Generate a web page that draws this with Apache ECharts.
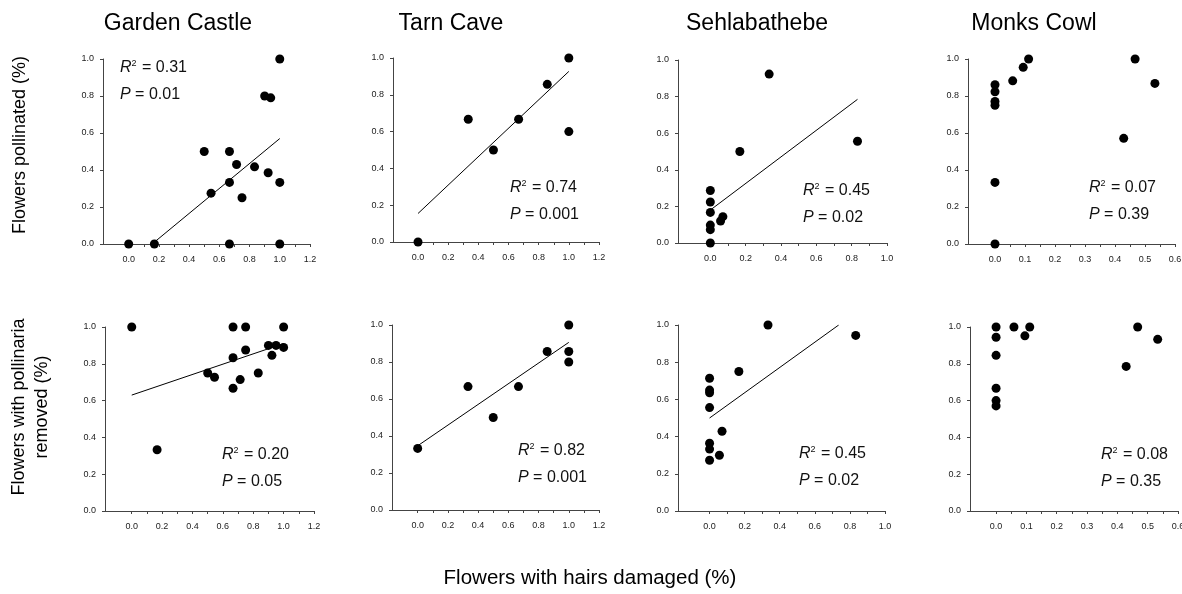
<!DOCTYPE html>
<html>
<head>
<meta charset="utf-8">
<script src="https://cdn.jsdelivr.net/npm/echarts@6/dist/echarts.min.js"></script>
<style>html,body{margin:0;padding:0;background:#fff}#c{width:1182px;height:594px}</style>
</head>
<body>
<div id="c"></div>
<script>
// ---------- DATA ----------
const siteNames = ['Garden Castle', 'Tarn Cave', 'Sehlabathebe', 'Monks Cowl'];
const yTitleTop = 'Flowers pollinated (%)';
const yTitleBottom = 'Flowers with pollinaria\nremoved (%)';
const xTitle = 'Flowers with hairs damaged (%)';

const yTicks = [0, 0.2, 0.4, 0.6, 0.8, 1.0];
const xTicksWide = [0, 0.2, 0.4, 0.6, 0.8, 1.0, 1.2];
const xTicksMid = [0, 0.2, 0.4, 0.6, 0.8, 1.0];
const xTicksNarrow = [0, 0.1, 0.2, 0.3, 0.4, 0.5, 0.6];

// Row 1: flowers pollinated
const gcPolX = [0, 0.17, 0.5, 0.545, 0.667, 0.667, 0.667, 0.714, 0.75, 0.833, 0.9, 0.94, 0.923, 1, 1, 1];
const gcPolY = [0, 0, 0.5, 0.275, 0.5, 0.333, 0, 0.43, 0.25, 0.417, 0.8, 0.79, 0.385, 1, 0.333, 0];
const gcPolFitX = [0.17, 1.0];
const gcPolFitY = [0.01, 0.57];

const tcPolX = [0, 0.333, 0.5, 0.667, 0.857, 1, 1];
const tcPolY = [0, 0.667, 0.5, 0.667, 0.857, 1, 0.6];
const tcPolFitX = [0, 1.0];
const tcPolFitY = [0.155, 0.927];

const shPolX = [0, 0, 0, 0, 0, 0, 0.058, 0.071, 0.167, 0.333, 0.833];
const shPolY = [0, 0.073, 0.098, 0.167, 0.224, 0.287, 0.12, 0.144, 0.5, 0.923, 0.556];
const shPolFitX = [0, 0.833];
const shPolFitY = [0.18, 0.785];

const mcPolX = [0, 0, 0, 0, 0, 0, 0.059, 0.094, 0.112, 0.429, 0.467, 0.533];
const mcPolY = [0, 0.333, 0.75, 0.77, 0.823, 0.861, 0.882, 0.955, 1, 0.571, 1, 0.868];

// Row 2: flowers with pollinaria removed
const gcRemX = [0, 0.167, 0.5, 0.545, 0.667, 0.667, 0.667, 0.714, 0.75, 0.75, 0.833, 0.9, 0.923, 0.95, 1, 1];
const gcRemY = [1, 0.333, 0.75, 0.727, 1, 0.833, 0.667, 0.714, 1, 0.875, 0.75, 0.9, 0.846, 0.9, 1, 0.889];
const gcRemFitX = [0, 1.0];
const gcRemFitY = [0.63, 0.91];

const tcRemX = [0, 0.333, 0.5, 0.667, 0.857, 1, 1, 1];
const tcRemY = [0.333, 0.667, 0.5, 0.667, 0.857, 1, 0.857, 0.8];
const tcRemFitX = [0, 1.0];
const tcRemFitY = [0.347, 0.906];

const shRemX = [0, 0, 0, 0, 0, 0, 0, 0.056, 0.071, 0.167, 0.333, 0.833];
const shRemY = [0.714, 0.65, 0.636, 0.556, 0.364, 0.333, 0.273, 0.3, 0.429, 0.75, 1, 0.944];
const shRemFitX = [0, 0.736];
const shRemFitY = [0.5, 1.0];

const mcRemX = [0, 0, 0, 0, 0, 0, 0.059, 0.095, 0.111, 0.429, 0.467, 0.533];
const mcRemY = [1, 0.944, 0.846, 0.667, 0.6, 0.571, 1, 0.952, 1, 0.786, 1, 0.933];

const r2Values = ['0.31', '0.74', '0.45', '0.07', '0.20', '0.82', '0.45', '0.08'];
const pValues = ['0.01', '0.001', '0.02', '0.39', '0.05', '0.001', '0.02', '0.35'];

// ---------- LAYOUT ----------
const FONT = "'Liberation Sans', Arial, sans-serif";
const panels = [
  {x: gcPolX, y: gcPolY, fx: gcPolFitX, fy: gcPolFitY, ticks: xTicksWide, min: -0.17, max: 1.2, g: [103, 59, 207, 185], ann: [120, 68]},
  {x: tcPolX, y: tcPolY, fx: tcPolFitX, fy: tcPolFitY, ticks: xTicksWide, min: -0.166, max: 1.2, g: [393, 58, 206, 184], ann: [510, 188]},
  {x: shPolX, y: shPolY, fx: shPolFitX, fy: shPolFitY, ticks: xTicksMid, min: -0.183, max: 1.0, g: [678, 60, 209, 183], ann: [803, 191]},
  {x: mcPolX, y: mcPolY, fx: null, fy: null, ticks: xTicksNarrow, min: -0.09, max: 0.6, g: [968, 59, 207, 185], ann: [1089, 188]},
  {x: gcRemX, y: gcRemY, fx: gcRemFitX, fy: gcRemFitY, ticks: xTicksWide, min: -0.176, max: 1.2, g: [105, 327, 209, 184], ann: [222, 455]},
  {x: tcRemX, y: tcRemY, fx: tcRemFitX, fy: tcRemFitY, ticks: xTicksWide, min: -0.17, max: 1.2, g: [392, 325, 207, 185], ann: [518, 451]},
  {x: shRemX, y: shRemY, fx: shRemFitX, fy: shRemFitY, ticks: xTicksMid, min: -0.18, max: 1.0, g: [678, 325, 207, 186], ann: [799, 454]},
  {x: mcRemX, y: mcRemY, fx: null, fy: null, ticks: xTicksNarrow, min: -0.086, max: 0.6, g: [970, 327, 208, 184], ann: [1101, 455]}
];
const titlePos = [[178, 24], [451, 24], [757, 24], [1034, 24]];

const axisColor = '#444';
const labelStyle = {fontSize: 9, color: '#222', fontFamily: FONT};

function minorTicks(ticks) {
  const out = [];
  for (let i = 0; i < ticks.length; i++) {
    out.push(ticks[i]);
    if (i < ticks.length - 1) out.push((ticks[i] + ticks[i + 1]) / 2);
  }
  return out;
}

const grid = [], xAxis = [], yAxis = [], series = [], graphic = [];
panels.forEach((p, i) => {
  grid.push({left: p.g[0], top: p.g[1], width: p.g[2], height: p.g[3], outerBoundsMode: 'none', containLabel: false});
  xAxis.push({
    type: 'value', gridIndex: i, min: p.min, max: p.max,
    splitLine: {show: false},
    axisLine: {show: true, onZero: false, lineStyle: {color: axisColor, width: 1}},
    axisTick: {show: true, inside: false, length: 3, customValues: minorTicks(p.ticks), lineStyle: {color: axisColor}},
    axisLabel: Object.assign({show: true, margin: 11, customValues: p.ticks, formatter: v => v.toFixed(1)}, labelStyle)
  });
  yAxis.push({
    type: 'value', gridIndex: i, min: 0, max: 1, interval: 0.2,
    splitLine: {show: false},
    axisLine: {show: true, onZero: false, lineStyle: {color: axisColor, width: 1}},
    axisTick: {show: true, inside: false, length: 3, lineStyle: {color: axisColor}},
    axisLabel: Object.assign({show: true, margin: 9, formatter: v => v.toFixed(1)}, labelStyle)
  });
  if (p.fx) {
    series.push({
      type: 'line', xAxisIndex: i, yAxisIndex: i, silent: true,
      data: p.fx.map((v, k) => [v, p.fy[k]]),
      showSymbol: false, symbol: 'none', clip: true,
      lineStyle: {color: '#000', width: 1}, z: 2, animation: false
    });
  }
  series.push({
    type: 'scatter', xAxisIndex: i, yAxisIndex: i,
    data: p.x.map((v, k) => [v, p.y[k]]),
    symbol: 'circle', symbolSize: 9, clip: false,
    itemStyle: {color: '#000', opacity: 1}, z: 3, animation: false
  });
  const rich = {
    i: {fontStyle: 'italic', fontSize: 16, fontFamily: FONT, fill: '#111'},
    s: {fontSize: 9, fontFamily: FONT, fill: '#111', padding: [0, 1, 9, 0]},
    n: {fontSize: 16, fontFamily: FONT, fill: '#111'}
  };
  graphic.push({type: 'text', x: p.ann[0], y: p.ann[1], style: {text: '{i|R}{s|2}{n| = ' + r2Values[i] + '}', rich: rich, verticalAlign: 'middle', align: 'left'}});
  graphic.push({type: 'text', x: p.ann[0], y: p.ann[1] + 27, style: {text: '{i|P}{n| = ' + pValues[i] + '}', rich: rich, verticalAlign: 'middle', align: 'left'}});
});

siteNames.forEach((n, i) => {
  graphic.push({type: 'text', x: titlePos[i][0], y: titlePos[i][1], style: {text: n, font: '23px ' + FONT, fill: '#000', align: 'center', verticalAlign: 'middle'}});
});
graphic.push({type: 'text', x: 20, y: 145, rotation: Math.PI / 2, style: {text: yTitleTop, font: '18px ' + FONT, fill: '#000', align: 'center', verticalAlign: 'middle'}});
graphic.push({type: 'text', x: 31, y: 407, rotation: Math.PI / 2, style: {text: yTitleBottom, font: '18px ' + FONT, lineHeight: 23, fill: '#000', align: 'center', verticalAlign: 'middle'}});
graphic.push({type: 'text', x: 590, y: 578, style: {text: xTitle, font: '20.5px ' + FONT, fill: '#000', align: 'center', verticalAlign: 'middle'}});

const chart = echarts.init(document.getElementById('c'), null, {renderer: 'canvas'});
chart.setOption({
  backgroundColor: '#fff',
  animation: false,
  grid, xAxis, yAxis, series, graphic
});
</script>
</body>
</html>
